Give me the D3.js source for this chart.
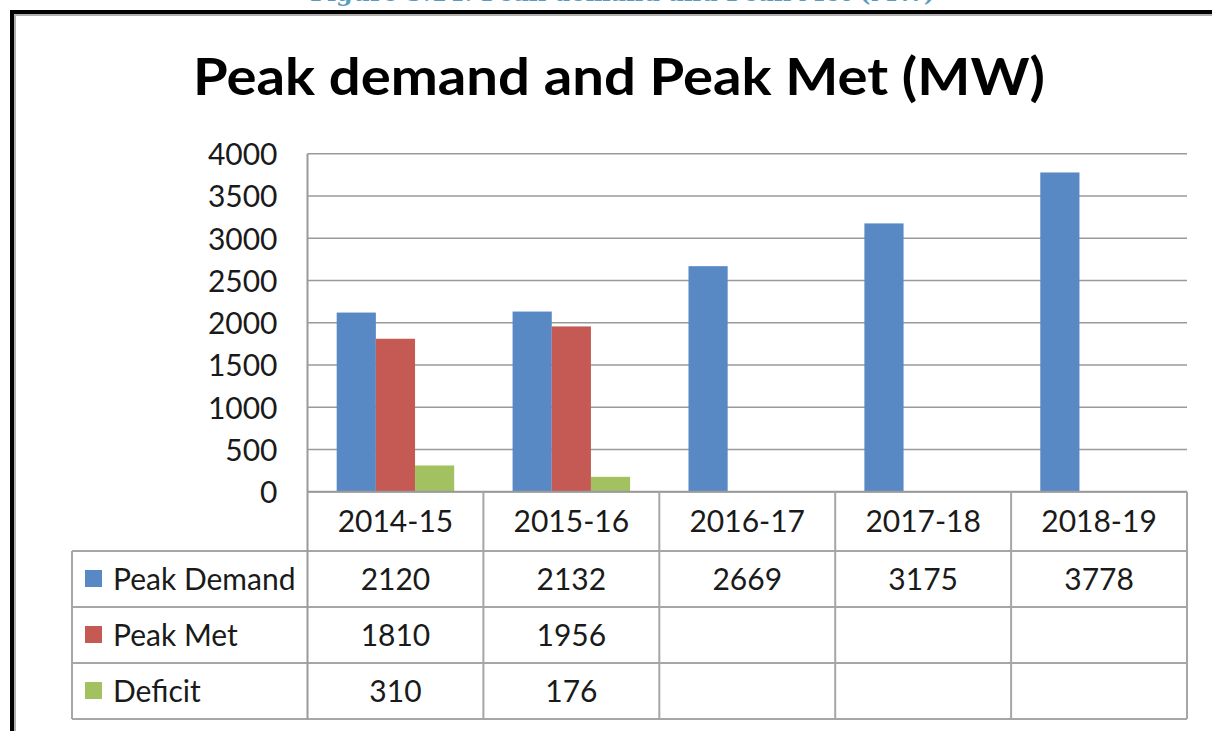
<!DOCTYPE html>
<html>
<head>
<meta charset="utf-8">
<script src="https://cdn.jsdelivr.net/npm/d3@7"></script>
<style>
  html, body { margin: 0; padding: 0; background: #ffffff; }
  svg { display: block; }
  text { font-family: Lato, "Open Sans", sans-serif; fill: #1a1a1a; }
</style>
</head>
<body>
<svg id="chart" width="1212" height="731"></svg>
<script>
// Fiscal years and series values (MW)
const categories = ["2014-15", "2015-16", "2016-17", "2017-18", "2018-19"];
const peakDemand = [2120, 2132, 2669, 3175, 3778];
const peakMet    = [1810, 1956, null, null, null];
const deficit    = [310, 176, null, null, null];
const seriesNames = ["Peak Demand", "Peak Met", "Deficit"];
const yTicks = [0, 500, 1000, 1500, 2000, 2500, 3000, 3500, 4000];

const captionText = "Figure 5.14: Peak demand and Peak Met (MW)";
const titleText = "Peak demand and Peak Met (MW)";

const seriesValues = [peakDemand, peakMet, deficit];
const seriesColors = ["#5889c4", "#c45a53", "#a2c161"];

const svg = d3.select("#chart");

// layout
const plotLeft = 307.5, plotRight = 1187;
const plotTop = 153.7, plotBottom = 491.7;
const tableLeft = 72;
const rowBounds = [plotBottom, 551, 607, 663, 719]; // header row + 3 data rows
const gridColor = "#9a9a9a";
const tableColor = "#a6a6a6";

// caption above the chart frame (only its lower part shows)
svg.append("text")
  .attr("x", 310).attr("y", 1)
  .attr("textLength", 625).attr("lengthAdjust", "spacingAndGlyphs")
  .style("font-family", "'DejaVu Serif', 'Liberation Serif', serif")
  .style("font-weight", "bold")
  .style("font-size", "24px")
  .style("fill", "#5a9cc0")
  .text(captionText);

// chart frame
svg.append("rect")
  .attr("x", 12).attr("y", 12)
  .attr("width", 1300).attr("height", 800)
  .attr("fill", "none").attr("stroke", "#000").attr("stroke-width", 4);
svg.append("rect")
  .attr("x", 15).attr("y", 15)
  .attr("width", 1300).attr("height", 800)
  .attr("fill", "none").attr("stroke", "#b0b0b0").attr("stroke-width", 2);

// title
svg.append("text")
  .attr("x", 619).attr("y", 95)
  .attr("text-anchor", "middle")
  .attr("textLength", 852).attr("lengthAdjust", "spacingAndGlyphs")
  .style("font-size", "51px")
  .style("font-weight", "bold")
  .style("fill", "#000")
  .text(titleText);

// scales
const x = d3.scaleBand().domain(categories).range([plotLeft, plotRight]).padding(0);
const xs = d3.scaleBand().domain(seriesNames).range([0, x.bandwidth()])
  .paddingInner(0).paddingOuter(0.745);
const y = d3.scaleLinear().domain([0, 4000]).range([plotBottom, plotTop]);

// horizontal gridlines
svg.append("g").selectAll("line")
  .data(yTicks)
  .join("line")
  .attr("x1", plotLeft).attr("x2", plotRight)
  .attr("y1", d => y(d)).attr("y2", d => y(d))
  .attr("stroke", gridColor).attr("stroke-width", 1.6);

// y axis via d3.axisLeft, styled as plain labels
const yAxis = svg.append("g")
  .attr("transform", `translate(${plotLeft - 30},0)`)
  .call(d3.axisLeft(y).tickValues(yTicks).tickSize(0).tickPadding(0).tickFormat(d3.format("d")));
yAxis.select(".domain").remove();
yAxis.selectAll("text")
  .attr("dy", "0.36em")
  .style("font-family", "Lato, 'Open Sans', sans-serif")
  .style("font-size", "30px")
  .style("fill", "#1a1a1a");

// bars
const barData = [];
seriesNames.forEach((s, si) => {
  categories.forEach((c, ci) => {
    const v = seriesValues[si][ci];
    if (v != null) barData.push({ s, c, v, color: seriesColors[si] });
  });
});
svg.append("g").selectAll("rect")
  .data(barData)
  .join("rect")
  .attr("x", d => x(d.c) + xs(d.s))
  .attr("y", d => y(d.v))
  .attr("width", xs.bandwidth())
  .attr("height", d => plotBottom - y(d.v))
  .attr("fill", d => d.color);

// data table
const table = svg.append("g");
// horizontal rules
rowBounds.forEach((ry, i) => {
  table.append("line")
    .attr("x1", i === 0 ? plotLeft : tableLeft).attr("x2", plotRight)
    .attr("y1", ry).attr("y2", ry)
    .attr("stroke", i === 0 ? gridColor : tableColor).attr("stroke-width", 2);
});
// vertical rules: legend column edge + category column edges
table.append("line")
  .attr("x1", tableLeft).attr("x2", tableLeft)
  .attr("y1", rowBounds[1]).attr("y2", rowBounds[4])
  .attr("stroke", tableColor).attr("stroke-width", 2);
categories.concat([null]).forEach(c => {
  const cx = c === null ? plotRight : x(c);
  table.append("line")
    .attr("x1", cx).attr("x2", cx)
    .attr("y1", c === categories[0] ? plotTop : rowBounds[0]).attr("y2", rowBounds[4])
    .attr("stroke", c === categories[0] ? gridColor : tableColor).attr("stroke-width", 2);
});

// header row: category labels
table.selectAll("text.cat")
  .data(categories)
  .join("text")
  .attr("class", "cat")
  .attr("x", d => x(d) + x.bandwidth() / 2)
  .attr("y", (rowBounds[0] + rowBounds[1]) / 2)
  .attr("dy", "0.36em")
  .attr("text-anchor", "middle")
  .style("font-size", "30px")
  .text(d => d);

// legend cells and values
seriesNames.forEach((s, si) => {
  const cy = (rowBounds[si + 1] + rowBounds[si + 2]) / 2;
  table.append("rect")
    .attr("x", 85).attr("y", cy - 9)
    .attr("width", 17).attr("height", 17)
    .attr("fill", seriesColors[si]);
  table.append("text")
    .attr("x", 113).attr("y", cy).attr("dy", "0.36em")
    .style("font-size", "30px")
    .text(s);
  categories.forEach((c, ci) => {
    const v = seriesValues[si][ci];
    if (v == null) return;
    table.append("text")
      .attr("x", x(c) + x.bandwidth() / 2)
      .attr("y", cy).attr("dy", "0.36em")
      .attr("text-anchor", "middle")
      .style("font-size", "30px")
      .text(v);
  });
});
</script>
</body>
</html>
